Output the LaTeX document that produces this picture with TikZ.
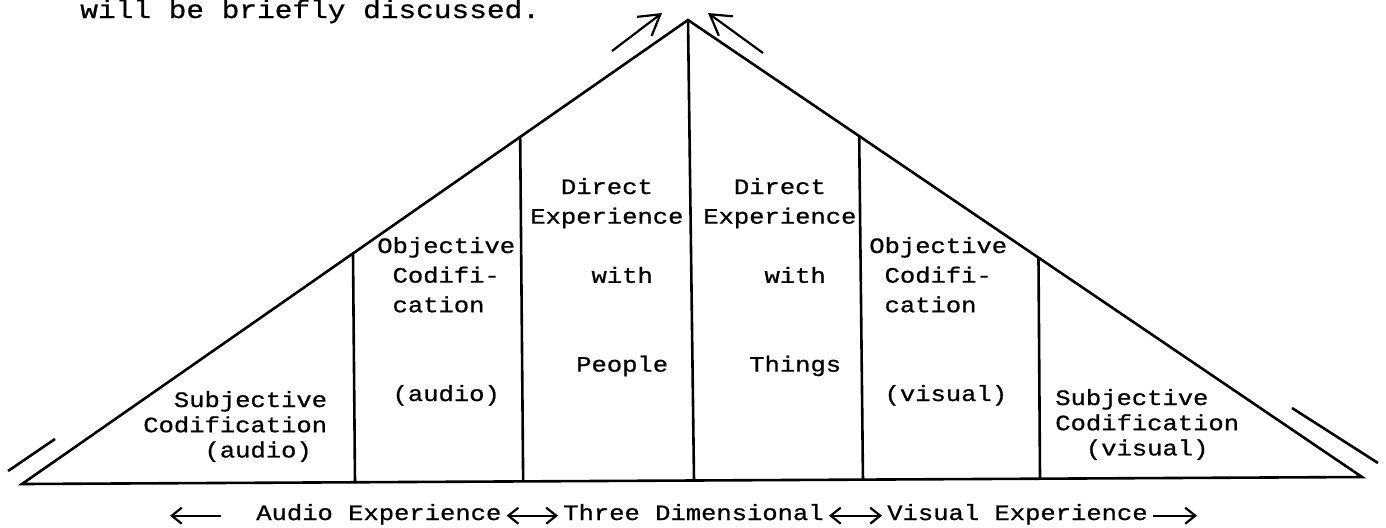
\documentclass[tikz,border=0pt]{standalone}
\usepackage{fontspec}
\newfontfamily\typewriter[FakeStretch=1.16, FakeBold=0.8]{Liberation Mono}
\usepackage{tikz}
\usetikzlibrary{arrows.meta, calc}
\tikzset{
        coltext/.style={font=\typewriter\fontsize{11pt}{14.8pt}\selectfont, text width=94pt, align=left, inner sep=0pt, anchor=base west},
        edgetext/.style={coltext, font=\typewriter\fontsize{11pt}{12.6pt}\selectfont},
        flowtext/.style={font=\typewriter\fontsize{11pt}{14.8pt}\selectfont, inner sep=2pt, anchor=base west},
        flow/.style={-{Straight Barb[length=5pt,width=8pt]}, line width=1.1pt},
        twoway/.style={{Straight Barb[length=5pt,width=8pt]}-{Straight Barb[length=5pt,width=8pt]}, line width=1.1pt},
        bigflow/.style={-{Straight Barb[length=10pt,width=12pt]}, line width=1.1pt},
}
\begin{document}
\begin{tikzpicture}[x=0.5pt, y=-0.5pt, line width=1.3pt]
        \useasboundingbox (0,0) rectangle (1386,527);
        \coordinate (L) at (22,484);
        \coordinate (A) at (688,20);
        \coordinate (R) at (1362,477);
        \draw (L) -- (A) -- (R) -- cycle;
        \draw ($(L)!0.497!(A)$) -- ($(L)!0.2485!(R)$)
              ($(L)!0.748!(A)$) -- ($(L)!0.374!(R)$)
              (A) -- ($(L)!0.5015!(R)$)
              ($(A)!0.254!(R)$) -- ($(L)!0.6276!(R)$)
              ($(A)!0.52!(R)$) -- ($(L)!0.7597!(R)$);
        \draw (8,471) -- (55,439) (1292,408) -- (1378,463);
        \draw[bigflow] (612,51) -- (662,13);
        \draw[bigflow] (763,53) -- (708,13);

        \node[font=\typewriter\fontsize{12.7pt}{16pt}\selectfont, inner sep=0pt, anchor=base west] (intro) at (79,18) {will be briefly discussed.};

        \node[edgetext] (subaudio) at (142,407) {\hphantom{xx}Subjective\\Codification\\\hphantom{xxxx}(audio)};
        \node[coltext] (objaudio) at (376,253) {Objective\\\hphantom{x}Codifi-\\\hphantom{x}cation\\[2\baselineskip]\hphantom{x}(audio)};
        \node[coltext] (people) at (529,194) {\hphantom{xx}Direct\\Experience\\[\baselineskip]\hphantom{xxxx}with\\[2\baselineskip]\hphantom{xxx}People};
        \node[coltext] (things) at (702,194) {\hphantom{xx}Direct\\Experience\\[\baselineskip]\hphantom{xxxx}with\\[2\baselineskip]\hphantom{xxx}Things};
        \node[coltext] (objvisual) at (868,253) {Objective\\\hphantom{x}Codifi-\\\hphantom{x}cation\\[2\baselineskip]\hphantom{x}(visual)};
        \node[edgetext] (subvisual) at (1054,405) {Subjective\\Codification\\\hphantom{xx}(visual)};

        \coordinate (farleft) at (170,513);
        \coordinate (farright) at (1197,513);
        \node[flowtext] (audio) at (251,520) {Audio Experience};
        \node[flowtext] (three) at (558,520) {Three Dimensional};
        \node[flowtext] (visual) at (882,520) {Visual Experience};
        \draw[flow, shorten <=15pt] (audio.mid west) -- (audio.mid west -| farleft);
        \draw[twoway] (audio.mid east) -- (three.mid west);
        \draw[twoway] (three.mid east) -- (visual.mid west);
        \draw[flow] (visual.mid east) -- (visual.mid east -| farright);
\end{tikzpicture}
\end{document}
